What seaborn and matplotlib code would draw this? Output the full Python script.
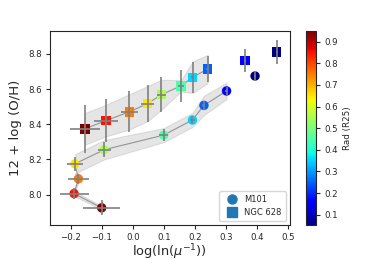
import numpy as np
import pandas as pd
import matplotlib
matplotlib.use("Agg")
import matplotlib.pyplot as plt
from matplotlib.lines import Line2D
import seaborn as sns

# ---- data (radial bins, innermost -> outermost) ----
rad = [0.05, 0.15, 0.25, 0.35, 0.45, 0.55, 0.65, 0.75, 0.85, 0.95]

m101_x = [0.394, 0.302, 0.229, 0.192, 0.099, -0.093, -0.187, -0.176, -0.190, -0.101]
m101_y = [8.674, 8.589, 8.507, 8.424, 8.338, 8.255, 8.175, 8.090, 8.006, 7.925]
m101_xerr = [0.004, 0.004, 0.005, 0.007, 0.014, 0.021, 0.025, 0.035, 0.047, 0.059]
m101_yerr = [0.028, 0.025, 0.025, 0.024, 0.033, 0.042, 0.040, 0.028, 0.030, 0.042]
m101_band = [np.nan, 0.047, 0.055, 0.040, 0.040, 0.055, 0.055, 0.015, 0.015, 0.010]

n628_x = [0.464, 0.362, 0.241, 0.193, 0.155, 0.092, 0.047, -0.012, -0.087, -0.155]
n628_y = [8.811, 8.762, 8.714, 8.667, 8.618, 8.568, 8.517, 8.470, 8.421, 8.374]
n628_xerr = [0.003, 0.003, 0.004, 0.005, 0.009, 0.015, 0.021, 0.027, 0.038, 0.048]
n628_yerr = [0.068, 0.068, 0.075, 0.087, 0.090, 0.100, 0.106, 0.116, 0.120, 0.135]
n628_band = [np.nan, np.nan, 0.080, 0.090, 0.032, 0.085, 0.100, 0.100, 0.090, 0.090]

legend_labels = ["M101", "NGC 628"]
cbar_ticks = [0.1, 0.2, 0.3, 0.4, 0.5, 0.6, 0.7, 0.8, 0.9]

sns.set_style("ticks")
plt.rcParams['font.family'] = ['DejaVu Sans']

fig = plt.figure(figsize=(3.9, 2.6), dpi=100)
ax = fig.add_axes([0.128, 0.133, 0.615, 0.748])
cax = fig.add_axes([0.785, 0.133, 0.026, 0.748])

norm = matplotlib.colors.Normalize(vmin=0.05, vmax=0.95)
jet = matplotlib.colormaps["jet"]

def draw(xs, ys, xe, ye, band, marker):
    xs = np.array(xs); ys = np.array(ys); band = np.array(band)
    ok = np.isfinite(band)
    ax.fill_between(xs[ok], ys[ok] - band[ok], ys[ok] + band[ok],
                    color="gray", alpha=0.2, lw=0.8, zorder=0.5)
    df_line = pd.DataFrame({"x": xs[ok], "y": ys[ok]})
    sns.lineplot(data=df_line, x="x", y="y", sort=False, estimator=None,
                 color="gray", lw=0.8, alpha=0.8, ax=ax, zorder=0.8)
    df = pd.DataFrame({"x": xs, "y": ys, "rad": rad})
    sns.scatterplot(data=df, x="x", y="y", hue="rad", palette=jet,
                    hue_norm=norm, marker=marker, s=46, linewidth=0,
                    legend=False, ax=ax, zorder=1)
    ax.errorbar(xs, ys, xerr=xe, yerr=ye, fmt="none", ecolor="gray",
                elinewidth=1.2, zorder=2)

draw(m101_x, m101_y, m101_xerr, m101_yerr, m101_band, "o")
draw(n628_x, n628_y, n628_xerr, n628_yerr, n628_band, "s")

ax.set_xlim(-0.268, 0.506)
ax.set_ylim(7.825, 8.93)
ax.set_xticks([-0.2, -0.1, 0.0, 0.1, 0.2, 0.3, 0.4, 0.5])
ax.set_yticks([8.0, 8.2, 8.4, 8.6, 8.8])
ax.tick_params(labelsize=6.2, length=3, width=0.8, pad=2.5)
for s in ax.spines.values():
    s.set_linewidth(0.8)
ax.set_xlabel(r"log(ln($\mu^{-1}$))", fontsize=9.3, labelpad=0.3)
ax.set_ylabel("12 + log (O/H)", fontsize=9.5, labelpad=5)

handles = [Line2D([], [], marker="o", ls="none", color="#1f77b4", markersize=6.5),
           Line2D([], [], marker="s", ls="none", color="#1f77b4", markersize=6.5)]
ax.legend(handles, legend_labels, loc="lower right", fontsize=6,
          frameon=True, handletextpad=0.5, borderpad=0.5, labelspacing=0.45)

sm = matplotlib.cm.ScalarMappable(norm=norm, cmap=jet)
cb = fig.colorbar(sm, cax=cax, ticks=cbar_ticks)
cb.ax.tick_params(labelsize=6.2, length=3, width=0.8, pad=2.5)
cb.set_label("Rad (R25)", fontsize=6.3)
cb.outline.set_linewidth(0.8)

fig.savefig("out.png", dpi=100)
